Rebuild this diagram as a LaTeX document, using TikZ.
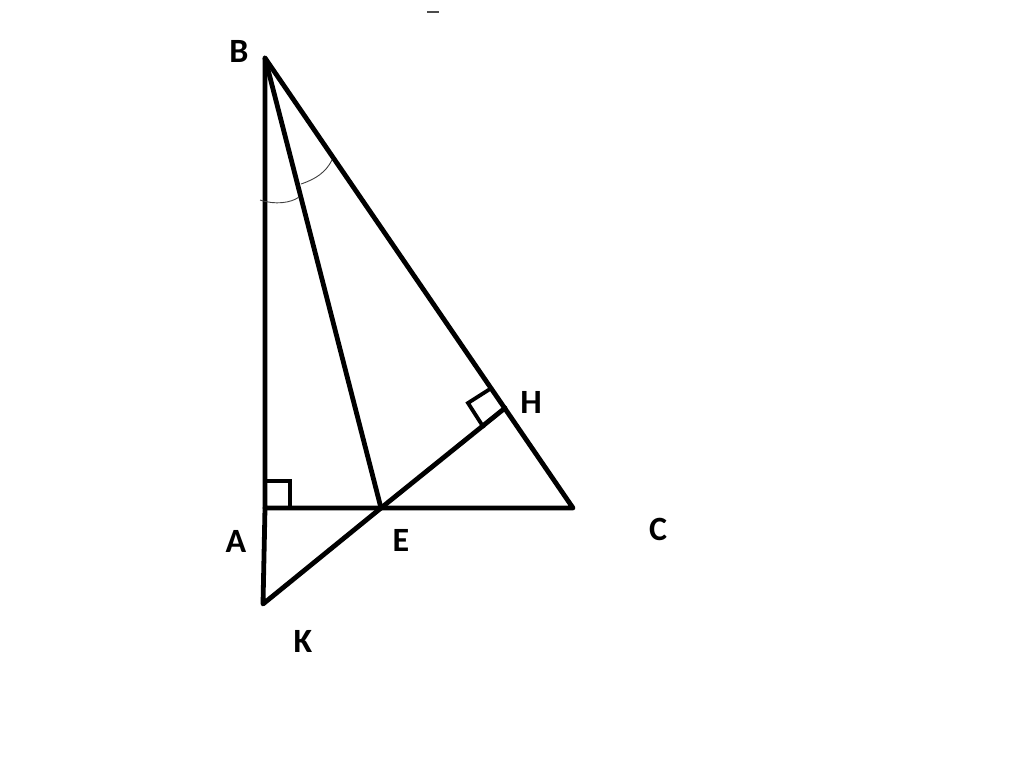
\documentclass[tikz,border=0pt]{standalone}
\usepackage{fontspec}
\setmainfont{Carlito}
\begin{document}
\begin{tikzpicture}[x=1pt,y=-1pt,
  thick line/.style={line width=4.8pt,line cap=round,line join=round,black},
  mark line/.style={line width=3.8pt,line join=miter,black},
  arc line/.style={line width=0.9pt,black!75},
  lbl/.style={font=\fontsize{34}{38}\selectfont\bfseries,text=black,inner sep=0pt}]
\useasboundingbox (0,0) rectangle (1024,764);
\coordinate (B) at (265,58);
\coordinate (A) at (265,508);
\coordinate (C) at (573,508);
\coordinate (E) at (381,508);
\coordinate (K) at (263,604);
\coordinate (H) at (505,408);
% triangle and segments
\draw[thick line] (B) -- (A) -- (C) -- cycle;
\draw[thick line] (B) -- (E);
\draw[thick line] (A) -- (K) -- (E) -- (H);
% right angle at A
\coordinate (a1) at (265,481);
\coordinate (a2) at (290,481);
\coordinate (a3) at (290,508);
\draw[mark line] (a1) -- (a2) -- (a3);
% right angle at H
\coordinate (h1) at (490,389);
\coordinate (h2) at (468,403);
\coordinate (h3) at (484,428);
\draw[mark line] (h1) -- (h2) -- (h3);
% angle arcs at B
\coordinate (p1) at (260,200);
\coordinate (p2) at (299,197);
\coordinate (q1) at (301,184);
\coordinate (q2) at (332,160);
\draw[arc line] (p1) .. controls (275,205) and (291,203) .. (p2);
\draw[arc line] (q1) .. controls (316,179) and (326,172) .. (q2);
% small dash at top
\coordinate (d1) at (427,12);
\coordinate (d2) at (439,12);
\draw[line width=1.6pt,black!70] (d1) -- (d2);
% labels
\node[lbl] (lB) at (239,51) {B};
\node[lbl] (lA) at (236,541) {A};
\node[lbl] (lE) at (401,540) {E};
\node[lbl] (lC) at (658,529) {C};
\node[lbl] (lK) at (303,641) {K};
\node[lbl] (lH) at (531,402) {H};
\end{tikzpicture}
\end{document}
